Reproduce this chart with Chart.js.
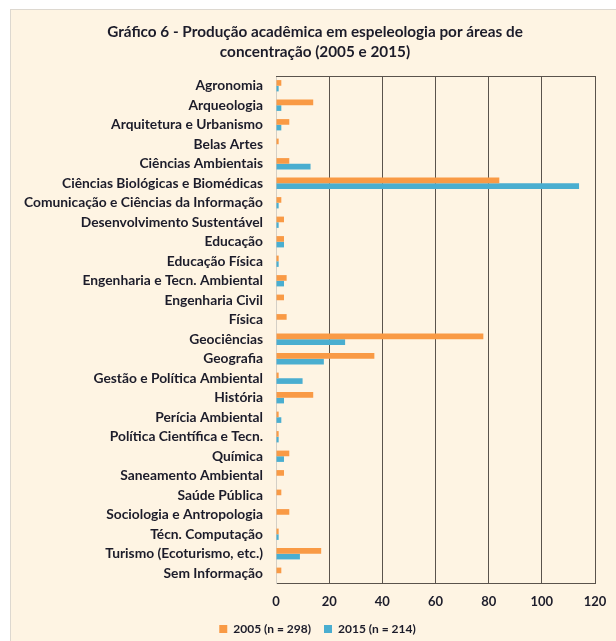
<!DOCTYPE html>
<html>
<head>
<meta charset="utf-8">
<script src="https://cdn.jsdelivr.net/npm/chart.js@4/dist/chart.umd.min.js"></script>
<style>
  body { margin: 0; background: #fff; }
  #panel {
    position: absolute; left: 10px; top: 9px; width: 620px; height: 640px;
    background: #fef4e3; border: 1px solid #ddd8d0;
  }
  #wrap { position: absolute; left: 0; top: 0; width: 616px; height: 641px; }
</style>
</head>
<body>
<div id="panel"></div>
<div id="wrap"><canvas id="chart"></canvas></div>
<script>
// areas de concentração
const areas = [
  'Agronomia', 'Arqueologia', 'Arquitetura e Urbanismo', 'Belas Artes',
  'Ciências Ambientais', 'Ciências Biológicas e Biomédicas',
  'Comunicação e Ciências da Informação', 'Desenvolvimento Sustentável',
  'Educação', 'Educação Física', 'Engenharia e Tecn. Ambiental',
  'Engenharia Civil', 'Física', 'Geociências', 'Geografia',
  'Gestão e Política Ambiental', 'História', 'Perícia Ambiental',
  'Política Científica e Tecn.', 'Química', 'Saneamento Ambiental',
  'Saúde Pública', 'Sociologia e Antropologia', 'Técn. Computação',
  'Turismo (Ecoturismo, etc.)', 'Sem Informação'
];
const prod2005 = [2, 14, 5, 1, 5, 84, 2, 3, 3, 1, 4, 3, 4, 78, 37, 1, 14, 1, 1, 5, 3, 2, 5, 1, 17, 2];
const prod2015 = [1, 2, 2, 0, 13, 114, 1, 1, 3, 1, 3, 0, 0, 26, 18, 10, 3, 2, 1, 3, 0, 0, 0, 1, 9, 0];
const xTicks = [0, 20, 40, 60, 80, 100, 120];
const titleLines = ['Gráfico 6 - Produção acadêmica em espeleologia por áreas de', 'concentração (2005 e 2015)'];

const textColor = '#1c1c2a';
const fontFamily = 'Lato, "Open Sans", sans-serif';

// title is centred on the plot+labels block, not on the canvas, so draw it by hand
const titleText = {
  id: 'titleText',
  afterDraw(chart) {
    const { ctx } = chart;
    ctx.save();
    ctx.fillStyle = textColor;
    ctx.font = 'bold 15.3px ' + fontFamily;
    ctx.textAlign = 'center';
    ctx.textBaseline = 'middle';
    titleLines.forEach((line, i) => ctx.fillText(line, 315, 32 + i * 20));
    ctx.restore();
  }
};

// top edge of the plot area (Excel draws a full frame)
const plotFrame = {
  id: 'plotFrame',
  afterLayout(chart) {
    // shift legend so it sits under the plot like in the original
    chart.legend.left = 40;
    chart.legend.right = 595;
    chart.legend.width = 555;
  },
  afterDraw(chart) {
    const { ctx, chartArea: a } = chart;
    ctx.save();
    ctx.strokeStyle = '#5a534c';
    ctx.lineWidth = 1;
    ctx.beginPath();
    ctx.moveTo(a.left, Math.round(a.top) + 0.5);
    ctx.lineTo(a.right, Math.round(a.top) + 0.5);
    ctx.stroke();
    ctx.restore();
  }
};

const ctx = document.getElementById('chart').getContext('2d');
new Chart(ctx, {
  type: 'bar',
  data: {
    labels: areas,
    datasets: [
      { label: '2005 (n = 298)', data: prod2005, backgroundColor: '#f99a45' },
      { label: '2015 (n = 214)', data: prod2015, backgroundColor: '#4aaed0' }
    ]
  },
  options: {
    indexAxis: 'y',
    responsive: true,
    maintainAspectRatio: false,
    animation: false,
    datasets: { bar: { categoryPercentage: 0.58, barPercentage: 1.0 } },
    layout: { padding: { top: 76, left: 14, right: 21, bottom: -4 } },
    plugins: {
      title: { display: false },
      legend: {
        position: 'bottom',
        labels: {
          color: textColor,
          font: { family: fontFamily, size: 12, weight: 'bold' },
          boxWidth: 8,
          boxHeight: 8,
          padding: 13
        }
      },
      tooltip: { enabled: false }
    },
    scales: {
      x: {
        min: 0,
        max: 120,
        afterBuildTicks: (axis) => { axis.ticks = xTicks.map(v => ({ value: v })); },
        afterFit: (axis) => { axis.paddingLeft = 0; axis.paddingRight = 0; axis.height = 27; },
        grid: { color: '#5a534c', drawTicks: false },
        border: { color: '#5a534c' },
        ticks: {
          color: textColor,
          padding: 11,
          font: { family: fontFamily, size: 13, weight: 'bold' }
        }
      },
      y: {
        afterFit: (axis) => { axis.width = 262; axis.paddingTop = 0; axis.paddingBottom = 0; },
        grid: { display: false, drawTicks: false },
        border: { color: '#d4cfc6' },
        ticks: {
          color: textColor,
          padding: 13,
          autoSkip: false,
          font: { family: fontFamily, size: 13.8, weight: 'bold' }
        }
      }
    }
  },
  plugins: [titleText, plotFrame]
});
</script>
</body>
</html>
